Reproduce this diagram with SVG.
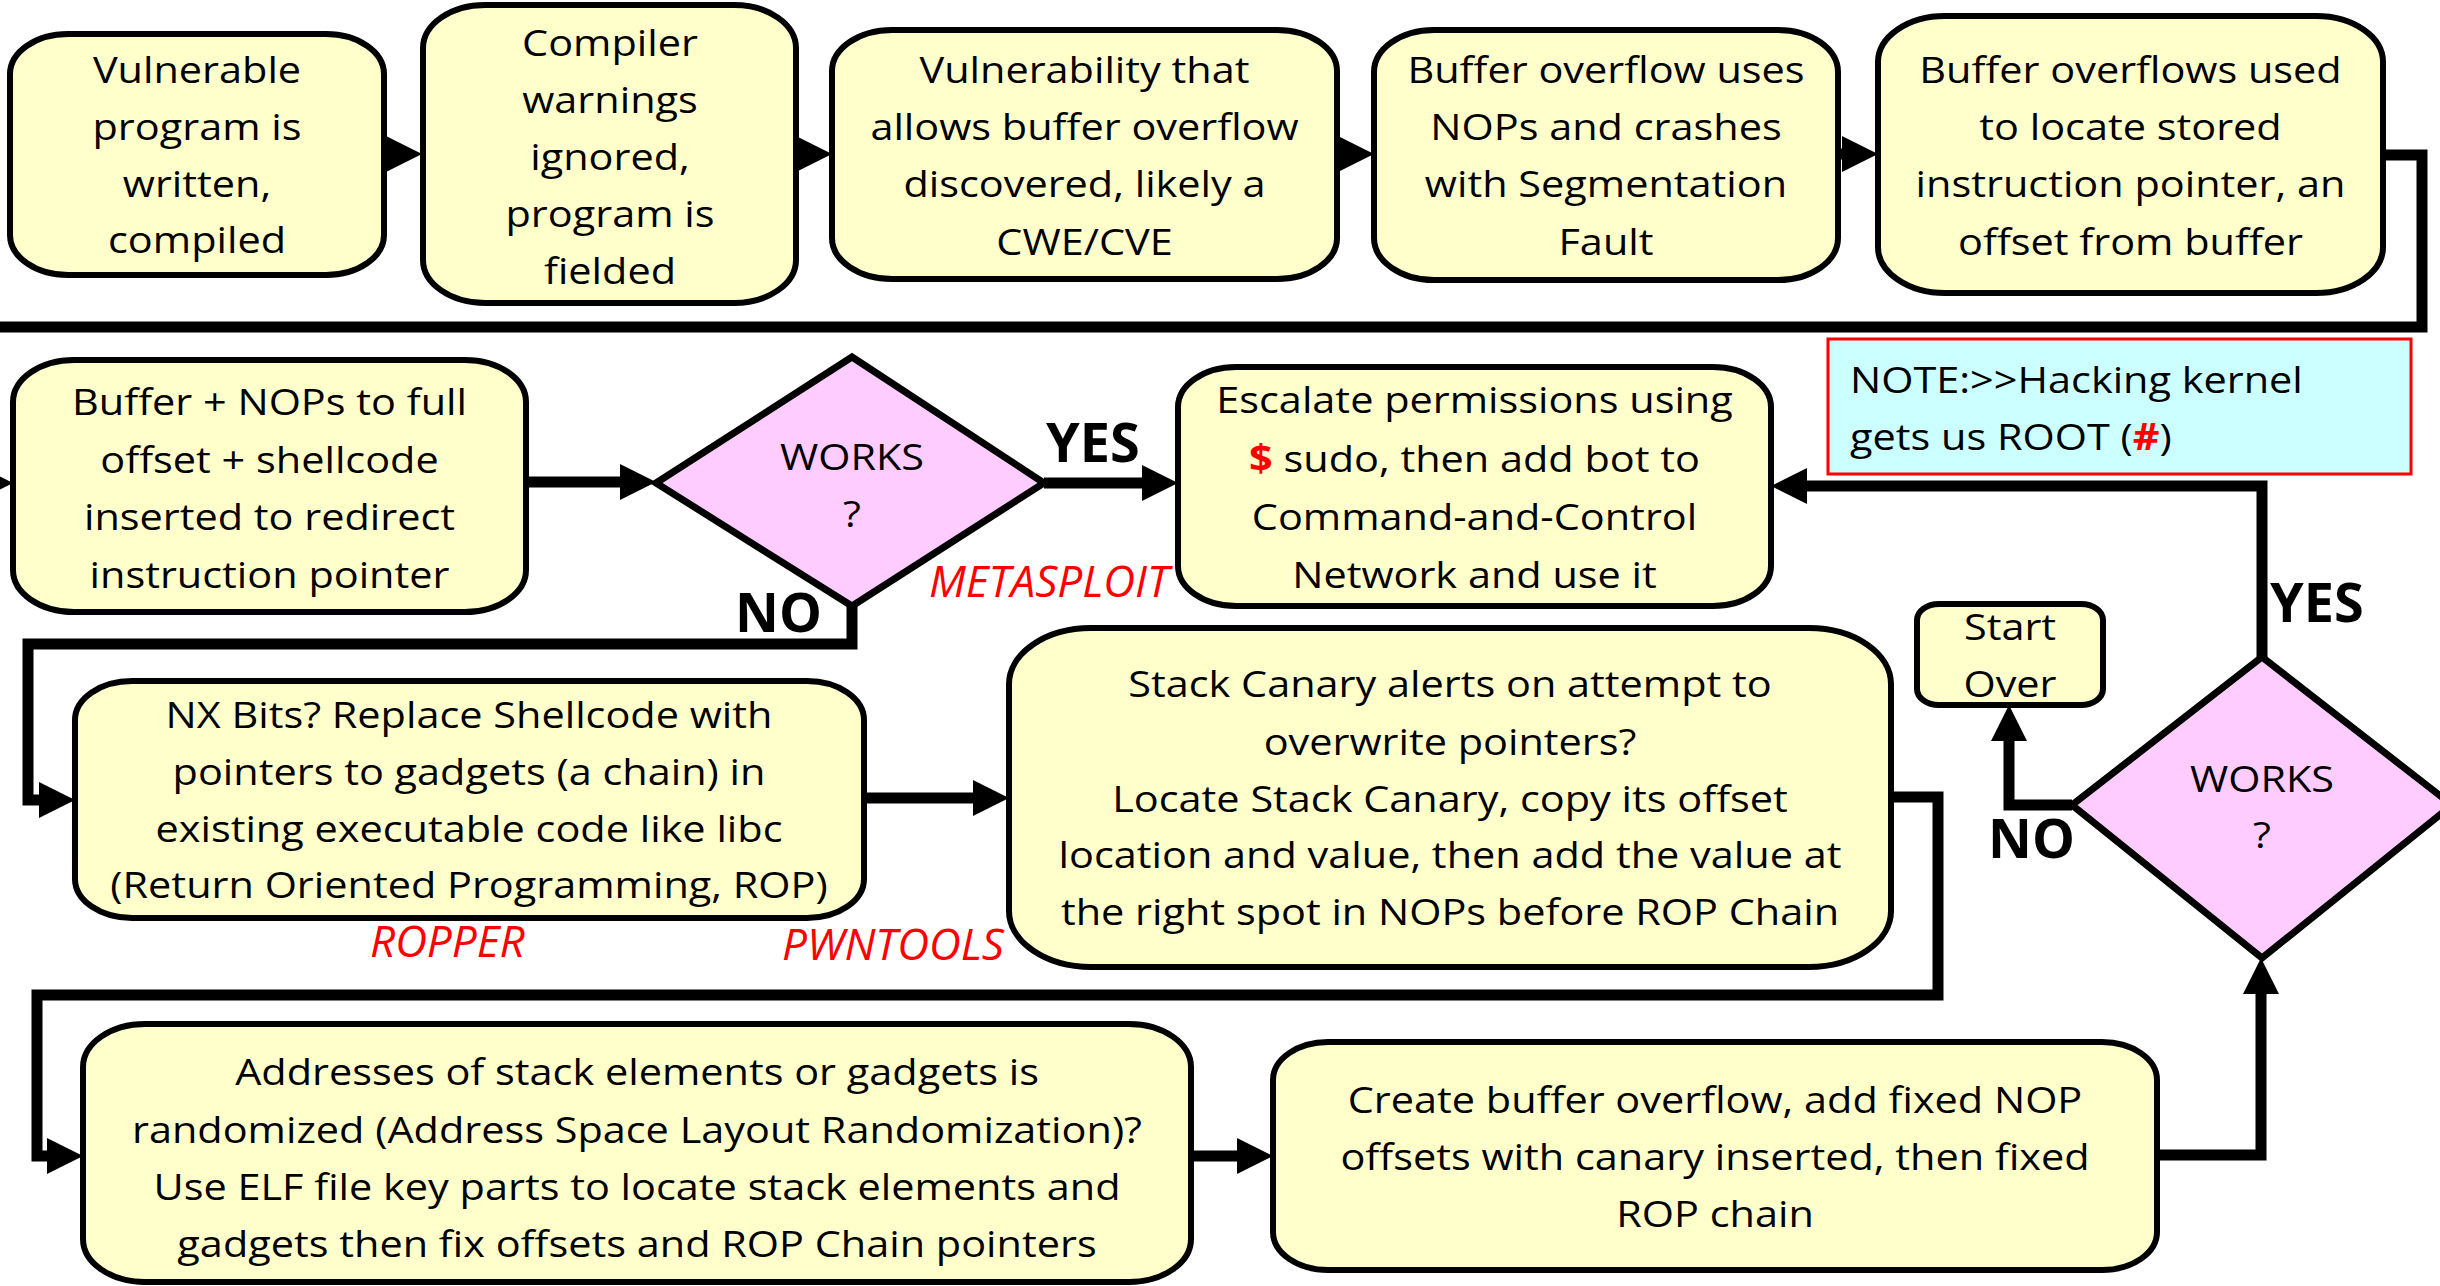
<svg xmlns="http://www.w3.org/2000/svg" width="2440" height="1286" viewBox="0 0 2440 1286">
<style>
.bg{fill:#FFFFFF}
.box{fill:#FFFFCC;stroke:#000;stroke-width:6}
.dia{fill:#FFCCFF;stroke:#000;stroke-width:7;stroke-linejoin:miter}
.note{fill:#CCFFFF;stroke:#FF0000;stroke-width:3}
.c{fill:none;stroke:#000;stroke-width:11;stroke-linejoin:miter}
.t{font-family:"Open Sans","Liberation Sans",sans-serif;font-size:37px;fill:#000;text-anchor:middle}
.tl{font-family:"Open Sans","Liberation Sans",sans-serif;font-size:37px;fill:#000;text-anchor:start}
.lab{font-family:"Open Sans","Liberation Sans",sans-serif;font-size:54px;font-weight:700;fill:#000}
.tool{font-family:"Open Sans","Liberation Sans",sans-serif;font-size:44px;font-style:italic;fill:#FF0000}
.rb{fill:#FF0000;font-weight:700}
</style>
<defs>
<marker id="ah" viewBox="0 0 36 36" refX="6" refY="18" markerWidth="36" markerHeight="36" orient="auto" markerUnits="userSpaceOnUse"><path d="M0,0 L36,18 L0,36 z" fill="#000"/></marker>
</defs>
<rect class="bg" x="0" y="0" width="2440" height="1286"/>

<g id="connectors">
<path class="c" d="M384,154 H392" marker-end="url(#ah)"/>
<path class="c" d="M797,154 H802" marker-end="url(#ah)"/>
<path class="c" d="M1337,154 H1344" marker-end="url(#ah)"/>
<path class="c" d="M1838,154 H1848" marker-end="url(#ah)"/>
<path class="c" d="M2383,155 H2422 V327 H-40 V483 H-17" marker-end="url(#ah)"/>
<path class="c" d="M526,482 H626" marker-end="url(#ah)"/>
<path class="c" d="M1044,483 H1148" marker-end="url(#ah)"/>
<path class="c" d="M852,606 V644 H28 V800 H45" marker-end="url(#ah)"/>
<path class="c" d="M864,798 H979" marker-end="url(#ah)"/>
<path class="c" d="M1891,797 H1938 V995 H37 V1156 H53" marker-end="url(#ah)"/>
<path class="c" d="M1191,1156 H1243" marker-end="url(#ah)"/>
<path class="c" d="M2157,1155 H2261 V988" marker-end="url(#ah)"/>
<path class="c" d="M2262,657 V486 H1801" marker-end="url(#ah)"/>
<path class="c" d="M2072,805 H2009 V735" marker-end="url(#ah)"/>
</g>

<g id="n1">
<rect class="box" x="10" y="34" width="374" height="241" rx="58" ry="40"/>
<text class="t" transform="matrix(1.12 0 0 1 197 0)"><tspan x="0" y="83">Vulnerable</tspan><tspan x="0" y="140">program is</tspan><tspan x="0" y="197">written,</tspan><tspan x="0" y="253">compiled</tspan></text>
</g>
<g id="n2">
<rect class="box" x="423" y="5" width="373" height="298" rx="62" ry="43"/>
<text class="t" transform="matrix(1.12 0 0 1 610 0)"><tspan x="0" y="56">Compiler</tspan><tspan x="0" y="113">warnings</tspan><tspan x="0" y="170">ignored,</tspan><tspan x="0" y="227">program is</tspan><tspan x="0" y="284">fielded</tspan></text>
</g>
<g id="n3">
<rect class="box" x="832" y="30" width="505" height="249" rx="60" ry="41"/>
<text class="t" transform="matrix(1.12 0 0 1 1084.5 0)"><tspan x="0" y="83">Vulnerability that</tspan><tspan x="0" y="140">allows buffer overflow</tspan><tspan x="0" y="197">discovered, likely a</tspan><tspan x="0" y="255">CWE/CVE</tspan></text>
</g>
<g id="n4">
<rect class="box" x="1374" y="30" width="464" height="250" rx="60" ry="42"/>
<text class="t" transform="matrix(1.12 0 0 1 1606 0)"><tspan x="0" y="83">Buffer overflow uses</tspan><tspan x="0" y="140">NOPs and crashes</tspan><tspan x="0" y="197">with Segmentation</tspan><tspan x="0" y="255">Fault</tspan></text>
</g>
<g id="n5">
<rect class="box" x="1878" y="16" width="505" height="277" rx="67" ry="46"/>
<text class="t" transform="matrix(1.12 0 0 1 2130.5 0)"><tspan x="0" y="83">Buffer overflows used</tspan><tspan x="0" y="140">to locate stored</tspan><tspan x="0" y="197">instruction pointer, an</tspan><tspan x="0" y="255">offset from buffer</tspan></text>
</g>
<g id="n6">
<rect class="box" x="13" y="360" width="513" height="252" rx="61" ry="42"/>
<text class="t" transform="matrix(1.12 0 0 1 269.5 0)"><tspan x="0" y="415">Buffer + NOPs to full</tspan><tspan x="0" y="473">offset + shellcode</tspan><tspan x="0" y="530">inserted to redirect</tspan><tspan x="0" y="588">instruction pointer</tspan></text>
</g>
<g id="d1">
<polygon class="dia" points="656,483 852,357 1044,483 852,606"/>
<text class="t" transform="matrix(1.12 0 0 1 852 0)"><tspan x="0" y="470">WORKS</tspan><tspan x="0" y="527">?</tspan></text>
</g>
<g id="n7">
<rect class="box" x="1178" y="367" width="593" height="239" rx="58" ry="40"/>
<text class="t" transform="matrix(1.12 0 0 1 1474.5 0)"><tspan x="0" y="413">Escalate permissions using</tspan><tspan x="0" y="472"><tspan class="rb">$</tspan> sudo, then add bot to</tspan><tspan x="0" y="530">Command-and-Control</tspan><tspan x="0" y="588">Network and use it</tspan></text>
</g>
<g id="note">
<rect class="note" x="1828" y="339" width="583" height="135"/>
<text class="tl" transform="matrix(1.12 0 0 1 1850 0)"><tspan x="0" y="393">NOTE:&gt;&gt;Hacking kernel</tspan><tspan x="0" y="450">gets us ROOT (<tspan class="rb">#</tspan>)</tspan></text>
</g>
<g id="n8">
<rect class="box" x="75" y="681" width="789" height="237" rx="57" ry="39"/>
<text class="t" transform="matrix(1.12 0 0 1 469 0)"><tspan x="0" y="728">NX Bits? Replace Shellcode with</tspan><tspan x="0" y="785">pointers to gadgets (a chain) in</tspan><tspan x="0" y="842">existing executable code like libc</tspan><tspan x="0" y="898">(Return Oriented Programming, ROP)</tspan></text>
</g>
<g id="n9">
<rect class="box" x="1009" y="628" width="882" height="339" rx="82" ry="56"/>
<text class="t" transform="matrix(1.12 0 0 1 1450 0)"><tspan x="0" y="697">Stack Canary alerts on attempt to</tspan><tspan x="0" y="755">overwrite pointers?</tspan><tspan x="0" y="812">Locate Stack Canary, copy its offset</tspan><tspan x="0" y="868">location and value, then add the value at</tspan><tspan x="0" y="925">the right spot in NOPs before ROP Chain</tspan></text>
</g>
<g id="start">
<rect class="box" x="1917" y="604" width="186" height="101" rx="22" ry="16"/>
<text class="t" transform="matrix(1.12 0 0 1 2010 0)"><tspan x="0" y="640">Start</tspan><tspan x="0" y="697">Over</tspan></text>
</g>
<g id="d2">
<polygon class="dia" points="2072,805 2262,657 2452,805 2262,958"/>
<text class="t" transform="matrix(1.12 0 0 1 2262 0)"><tspan x="0" y="792">WORKS</tspan><tspan x="0" y="848">?</tspan></text>
</g>
<g id="n10">
<rect class="box" x="83" y="1024" width="1108" height="258" rx="62" ry="43"/>
<text class="t" transform="matrix(1.12 0 0 1 637 0)"><tspan x="0" y="1085">Addresses of stack elements or gadgets is</tspan><tspan x="0" y="1143">randomized (Address Space Layout Randomization)?</tspan><tspan x="0" y="1200">Use ELF file key parts to locate stack elements and</tspan><tspan x="0" y="1257">gadgets then fix offsets and ROP Chain pointers</tspan></text>
</g>
<g id="n11">
<rect class="box" x="1273" y="1042" width="884" height="228" rx="55" ry="38"/>
<text class="t" transform="matrix(1.12 0 0 1 1715 0)"><tspan x="0" y="1113">Create buffer overflow, add fixed NOP</tspan><tspan x="0" y="1170">offsets with canary inserted, then fixed</tspan><tspan x="0" y="1227">ROP chain</tspan></text>
</g>

<g id="labels">
<text class="lab" x="1046" y="462">YES</text>
<text class="lab" x="735" y="632">NO</text>
<text class="lab" x="2270" y="622">YES</text>
<text class="lab" x="1988" y="858">NO</text>
<text class="tool" x="929" y="597">METASPLOIT</text>
<text class="tool" x="370" y="957">ROPPER</text>
<text class="tool" x="782" y="960">PWNTOOLS</text>
</g>
</svg>
